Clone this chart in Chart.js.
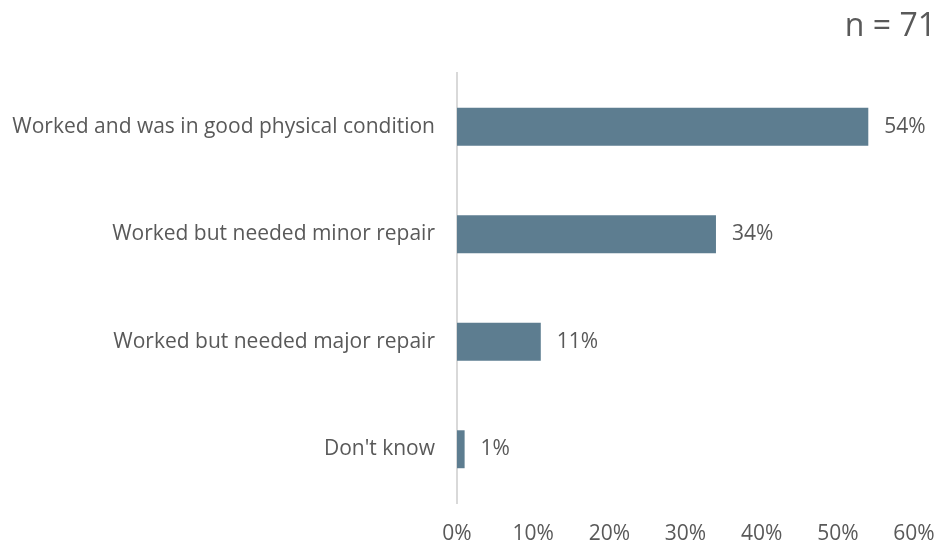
<!DOCTYPE html>
<html>
<head>
<meta charset="utf-8">
<script src="https://cdn.jsdelivr.net/npm/chart.js@4/dist/chart.umd.min.js"></script>
<style>
html,body{margin:0;padding:0;background:#fff;}
#wrap{width:941px;height:546px;position:relative;}
</style>
</head>
<body>
<div id="wrap"><canvas id="c" width="941" height="546"></canvas></div>
<script>
const categories = [
  "Worked and was in good physical condition",
  "Worked but needed minor repair",
  "Worked but needed major repair",
  "Don't know"
];
const values = [54, 34, 11, 1];
const tickLabels = ["0%", "10%", "20%", "30%", "40%", "50%", "60%"];
const sampleNote = "n = 71";

const FONT = "'Open Sans', sans-serif";
const TEXT = "#595959";

const valueLabels = {
  id: 'valueLabels',
  afterDatasetsDraw(chart) {
    const ctx = chart.ctx;
    const meta = chart.getDatasetMeta(0);
    ctx.save();
    ctx.font = "21px " + FONT;
    ctx.fillStyle = TEXT;
    ctx.textAlign = 'left';
    ctx.textBaseline = 'middle';
    meta.data.forEach((bar, i) => {
      ctx.fillText(values[i] + "%", bar.x + 16, bar.y);
    });
    ctx.restore();
  }
};

const noteLabel = {
  id: 'noteLabel',
  afterDraw(chart) {
    const ctx = chart.ctx;
    ctx.save();
    ctx.font = "32px " + FONT;
    ctx.fillStyle = TEXT;
    ctx.textAlign = 'right';
    ctx.textBaseline = 'middle';
    ctx.fillText(sampleNote, 936, 27);
    ctx.restore();
  }
};

new Chart(document.getElementById('c'), {
  type: 'bar',
  data: {
    labels: categories,
    datasets: [{
      data: values,
      backgroundColor: '#5d7d90',
      borderWidth: 0,
      barPercentage: 0.353,
      categoryPercentage: 1.0
    }]
  },
  options: {
    indexAxis: 'y',
    responsive: false,
    animation: false,
    layout: { padding: { top: 73, right: 27, left: 0, bottom: 0 } },
    plugins: {
      legend: { display: false },
      tooltip: { enabled: false },
      title: { display: false }
    },
    scales: {
      x: {
        min: 0, max: 60,
        ticks: {
          stepSize: 10,
          color: TEXT,
          font: { family: FONT, size: 21 },
          padding: 18,
          maxRotation: 0,
          callback: (v, i) => tickLabels[i]
        },
        grid: { display: false, drawTicks: false },
        border: { display: false },
        afterFit(scale) { scale.height = 43; scale.paddingLeft = 0; scale.paddingRight = 0; }
      },
      y: {
        ticks: {
          color: TEXT,
          font: { family: FONT, size: 21 },
          padding: 22
        },
        grid: { display: false, drawTicks: false },
        border: { display: true, color: '#d9d9d9', width: 2 },
        afterFit(scale) { scale.width = 457; scale.paddingTop = 0; scale.paddingBottom = 0; }
      }
    }
  },
  plugins: [valueLabels, noteLabel]
});
</script>
</body>
</html>
